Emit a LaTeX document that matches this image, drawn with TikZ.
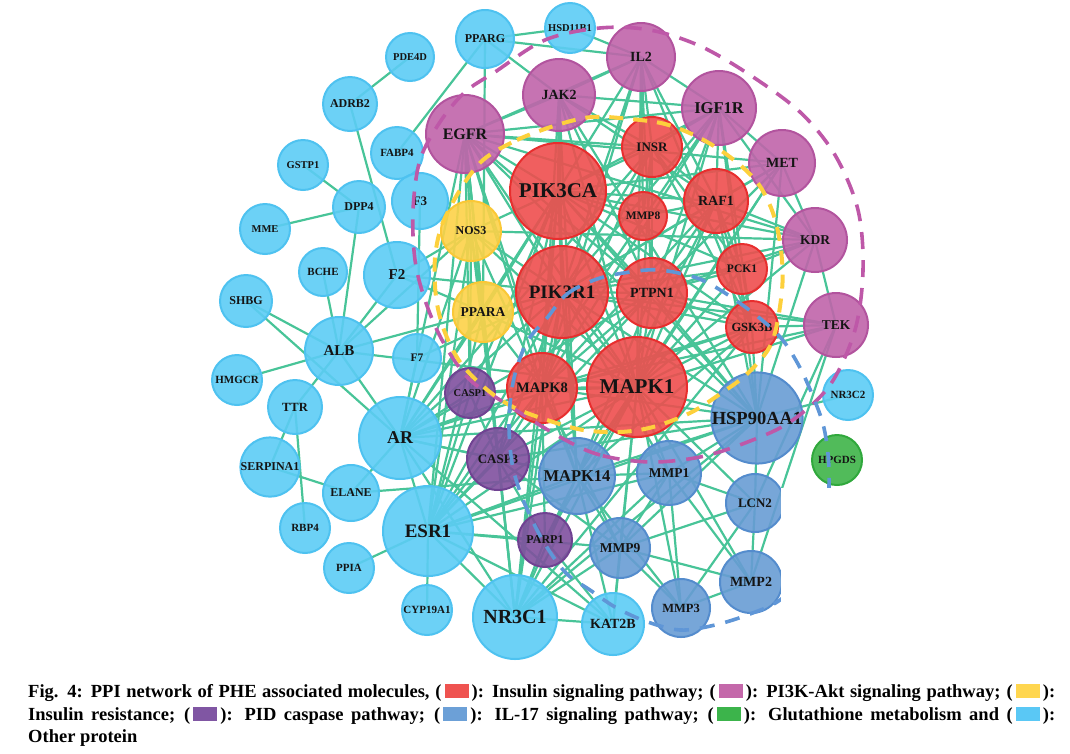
\documentclass[tikz,border=0pt]{standalone}
\usepackage{fontspec}
\setmainfont{Liberation Serif}
\pgfdeclarelayer{edgelayer}
\pgfsetlayers{edgelayer,main}
\newcommand\fsz[1]{\fontsize{#1}{#1}\selectfont\bfseries}
\newcommand\legbox[1]{\textcolor{#1}{\rule[-1pt]{24pt}{14pt}}}
\definecolor{rdF}{RGB}{238,78,78}\definecolor{rdD}{RGB}{232,46,46}
\definecolor{mgF}{RGB}{192,100,170}\definecolor{mgD}{RGB}{178,84,158}
\definecolor{ylF}{RGB}{253,210,72}\definecolor{ylD}{RGB}{250,200,55}
\definecolor{puF}{RGB}{128,80,158}\definecolor{puD}{RGB}{112,66,146}
\definecolor{blF}{RGB}{104,156,212}\definecolor{blD}{RGB}{84,140,205}
\definecolor{grF}{RGB}{62,180,72}\definecolor{grD}{RGB}{48,168,60}
\definecolor{lbF}{RGB}{92,204,245}\definecolor{lbD}{RGB}{78,194,240}
\definecolor{lnkC}{RGB}{72,196,152}
\definecolor{mgDash}{RGB}{190,88,168}
\definecolor{ylDash}{RGB}{253,208,60}
\definecolor{blDash}{RGB}{95,150,215}
\definecolor{legRd}{RGB}{239,83,80}
\definecolor{legMg}{RGB}{196,104,170}
\definecolor{legYl}{RGB}{255,214,79}
\definecolor{legPu}{RGB}{128,86,163}
\definecolor{legBl}{RGB}{108,160,215}
\definecolor{legGr}{RGB}{60,180,75}
\definecolor{legLb}{RGB}{90,200,245}
\begin{document}
\begin{tikzpicture}[x=1pt,y=-1pt,
  nd/.style={circle, inner sep=0pt, line width=2pt, fill opacity=0.9, text opacity=1, text=black!92},
  nRd/.style={nd, fill=rdF, draw=rdD},
  nMg/.style={nd, fill=mgF, draw=mgD},
  nYl/.style={nd, fill=ylF, draw=ylD},
  nPu/.style={nd, fill=puF, draw=puD},
  nBl/.style={nd, fill=blF, draw=blD},
  nGr/.style={nd, fill=grF, draw=grD},
  nLb/.style={nd, fill=lbF, draw=lbD},
  lnk/.style={draw=lnkC, line width=2.2pt},
  mgLoop/.style={draw=mgDash, line width=3.6pt, dash pattern=on 17pt off 11pt},
  ylLoop/.style={draw=ylDash, line width=4pt, dash pattern=on 14pt off 10pt},
  blLoop/.style={draw=blDash, line width=3.6pt, dash pattern=on 15pt off 11pt},
  capline/.style={anchor=base west, inner sep=0pt, font=\fsz{18.5}, text=black}]
\useasboundingbox (0,0) rectangle (1070,753);
% nodes
\node[nLb, minimum size=58pt, font=\fsz{12}] (PPARG) at (485,39) {PPARG};
\node[nLb, minimum size=50pt, font=\fsz{10.5}] (HSD11B1) at (570,28) {HSD11B1};
\node[nLb, minimum size=48pt, font=\fsz{10.5}] (PDE4D) at (410,57) {PDE4D};
\node[nLb, minimum size=54pt, font=\fsz{12}] (ADRB2) at (350,104) {ADRB2};
\node[nMg, minimum size=78pt, font=\fsz{16}] (EGFR) at (465,134) {EGFR};
\node[nLb, minimum size=52pt, font=\fsz{11}] (FABP4) at (397,153) {FABP4};
\node[nLb, minimum size=50pt, font=\fsz{10.5}] (GSTP1) at (303,165) {GSTP1};
\node[nLb, minimum size=52pt, font=\fsz{12}] (DPP4) at (359,207) {DPP4};
\node[nLb, minimum size=56pt, font=\fsz{13}] (F3) at (420,201) {F3};
\node[nLb, minimum size=50pt, font=\fsz{10.5}] (MME) at (265,229) {MME};
\node[nYl, minimum size=60pt, font=\fsz{12}] (NOS3) at (471,231) {NOS3};
\node[nMg, minimum size=72pt, font=\fsz{14}] (JAK2) at (559,95) {JAK2};
\node[nMg, minimum size=68pt, font=\fsz{14}] (IL2) at (641,57) {IL2};
\node[nMg, minimum size=74pt, font=\fsz{16.5}] (IGF1R) at (719,108) {IGF1R};
\node[nRd, minimum size=60pt, font=\fsz{13}] (INSR) at (652,147) {INSR};
\node[nMg, minimum size=66pt, font=\fsz{14}] (MET) at (782,163) {MET};
\node[nRd, minimum size=96pt, font=\fsz{21}] (PIK3CA) at (558,191) {PIK3CA};
\node[nRd, minimum size=64pt, font=\fsz{14}] (RAF1) at (716,201) {RAF1};
\node[nRd, minimum size=48pt, font=\fsz{11.5}] (MMP8) at (643,216) {MMP8};
\node[nMg, minimum size=64pt, font=\fsz{13.5}] (KDR) at (815,240) {KDR};
\node[nRd, minimum size=50pt, font=\fsz{11.5}] (PCK1) at (742,269) {PCK1};
\node[nRd, minimum size=92pt, font=\fsz{19}] (PIK3R1) at (562,292) {PIK3R1};
\node[nRd, minimum size=70pt, font=\fsz{14}] (PTPN1) at (652,293) {PTPN1};
\node[nRd, minimum size=52pt, font=\fsz{12.5}] (GSK3B) at (752,327) {GSK3B};
\node[nMg, minimum size=64pt, font=\fsz{13.5}] (TEK) at (836,325) {TEK};
\node[nRd, minimum size=70pt, font=\fsz{14.5}] (MAPK8) at (542,388) {MAPK8};
\node[nRd, minimum size=100pt, font=\fsz{21}] (MAPK1) at (637,387) {MAPK1};
\node[nBl, minimum size=90pt, font=\fsz{18.5}] (HSP90AA1) at (757,418) {HSP90AA1};
\node[nLb, minimum size=50pt, font=\fsz{11}] (NR3C2) at (848,395) {NR3C2};
\node[nGr, minimum size=50pt, font=\fsz{11}] (HPGDS) at (837,460) {HPGDS};
\node[nPu, minimum size=50pt, font=\fsz{10.5}] (CASP1) at (470,393) {CASP1};
\node[nYl, minimum size=60pt, font=\fsz{13.5}] (PPARA) at (483,312) {PPARA};
\node[nLb, minimum size=66pt, font=\fsz{15}] (F2) at (397,275) {F2};
\node[nLb, minimum size=48pt, font=\fsz{11}] (BCHE) at (323,272) {BCHE};
\node[nLb, minimum size=52pt, font=\fsz{12}] (SHBG) at (246,301) {SHBG};
\node[nLb, minimum size=68pt, font=\fsz{15}] (ALB) at (339,351) {ALB};
\node[nLb, minimum size=48pt, font=\fsz{11.5}] (F7) at (417,358) {F7};
\node[nLb, minimum size=50pt, font=\fsz{11}] (HMGCR) at (237,380) {HMGCR};
\node[nLb, minimum size=54pt, font=\fsz{12.5}] (TTR) at (295,407) {TTR};
\node[nLb, minimum size=82pt, font=\fsz{18}] (AR) at (400,438) {AR};
\node[nPu, minimum size=62pt, font=\fsz{13}] (CASP3) at (498,459) {CASP3};
\node[nLb, minimum size=54pt, font=\fsz{12}] (SERPINA1) at (270,467) {SERPINA1};
\node[nLb, minimum size=56pt, font=\fsz{12}] (ELANE) at (351,493) {ELANE};
\node[nLb, minimum size=90pt, font=\fsz{19}] (ESR1) at (428,531) {ESR1};
\node[nLb, minimum size=50pt, font=\fsz{11}] (RBP4) at (305,528) {RBP4};
\node[nLb, minimum size=50pt, font=\fsz{11}] (PPIA) at (349,568) {PPIA};
\node[nLb, minimum size=50pt, font=\fsz{11}] (CYP19A1) at (427,610) {CYP19A1};
\node[nLb, minimum size=84pt, font=\fsz{20}] (NR3C1) at (515,617) {NR3C1};
\node[nBl, minimum size=76pt, font=\fsz{16.5}] (MAPK14) at (577,476) {MAPK14};
\node[nBl, minimum size=64pt, font=\fsz{13.5}] (MMP1) at (669,473) {MMP1};
\node[nBl, minimum size=58pt, font=\fsz{13}] (LCN2) at (755,503) {LCN2};
\node[nPu, minimum size=54pt, font=\fsz{12}] (PARP1) at (545,540) {PARP1};
\node[nBl, minimum size=60pt, font=\fsz{13.5}] (MMP9) at (620,548) {MMP9};
\node[nBl, minimum size=62pt, font=\fsz{14}] (MMP2) at (751,582) {MMP2};
\node[nBl, minimum size=58pt, font=\fsz{12.5}] (MMP3) at (681,608) {MMP3};
\node[nLb, minimum size=62pt, font=\fsz{14}] (KAT2B) at (613,624) {KAT2B};
% edges
\begin{pgfonlayer}{edgelayer}
\foreach \a/\b in {PDE4D/ADRB2, ADRB2/F2, GSTP1/DPP4, MME/DPP4, DPP4/ALB, PPARG/FABP4, PPARG/HSD11B1, PPARG/IL2, PPARG/JAK2, PPARG/PPARA, HSD11B1/IL2, F3/F7, BCHE/ALB, F2/ALB, SHBG/ALB, SHBG/AR, HMGCR/ALB, TTR/ALB, ALB/AR, ALB/PPARA, TTR/SERPINA1, TTR/RBP4, SERPINA1/ELANE, ELANE/AR, ELANE/MAPK14, PPIA/ESR1, CYP19A1/ESR1, ESR1/NR3C1, ESR1/AR, F7/AR, F2/PIK3R1, F2/PPARA, F2/NOS3, TEK/MMP2, NR3C2/HSP90AA1, HSP90AA1/LCN2,
EGFR/PIK3CA, EGFR/PIK3R1, EGFR/MAPK1, EGFR/MAPK8, EGFR/JAK2, EGFR/IL2, EGFR/INSR, EGFR/IGF1R, EGFR/PTPN1, EGFR/ESR1, EGFR/AR, EGFR/MAPK14, EGFR/CASP3, EGFR/HSP90AA1, EGFR/NOS3, EGFR/PPARA, EGFR/KDR, EGFR/MET, EGFR/CASP1, EGFR/NR3C1,
JAK2/PIK3CA, JAK2/PIK3R1, JAK2/MAPK1, JAK2/IL2, JAK2/INSR, JAK2/IGF1R, JAK2/PTPN1, JAK2/MAPK8, JAK2/MAPK14, JAK2/RAF1, JAK2/HSP90AA1,
IL2/PIK3CA, IL2/PIK3R1, IL2/MAPK1, IL2/IGF1R, IL2/INSR, IL2/PTPN1, IL2/MMP8, IL2/MAPK8, IL2/RAF1, IL2/GSK3B,
IGF1R/PIK3CA, IGF1R/PIK3R1, IGF1R/MAPK1, IGF1R/INSR, IGF1R/PTPN1, IGF1R/RAF1, IGF1R/MET, IGF1R/KDR, IGF1R/GSK3B, IGF1R/MAPK8, IGF1R/HSP90AA1, IGF1R/ESR1,
INSR/PIK3CA, INSR/PIK3R1, INSR/MAPK1, INSR/PTPN1, INSR/RAF1, INSR/PCK1, INSR/GSK3B, INSR/MAPK8, INSR/MMP8, INSR/AR,
MET/PIK3CA, MET/PIK3R1, MET/MAPK1, MET/RAF1, MET/KDR, MET/HSP90AA1, MET/PTPN1, MET/MAPK14,
KDR/PIK3CA, KDR/PIK3R1, KDR/MAPK1, KDR/RAF1, KDR/PTPN1, KDR/HSP90AA1, KDR/TEK, KDR/NOS3, KDR/PCK1,
TEK/PIK3R1, TEK/MAPK1, TEK/PTPN1, TEK/GSK3B, TEK/MAPK8,
PIK3CA/PIK3R1, PIK3CA/MAPK1, PIK3CA/MAPK8, PIK3CA/RAF1, PIK3CA/PTPN1, PIK3CA/GSK3B, PIK3CA/PCK1, PIK3CA/NOS3, PIK3CA/PPARA, PIK3CA/HSP90AA1, PIK3CA/MAPK14, PIK3CA/CASP3, PIK3CA/CASP1, PIK3CA/AR, PIK3CA/ESR1, PIK3CA/NR3C1, PIK3CA/MMP8,
PIK3R1/MAPK1, PIK3R1/MAPK8, PIK3R1/RAF1, PIK3R1/PTPN1, PIK3R1/GSK3B, PIK3R1/PCK1, PIK3R1/NOS3, PIK3R1/PPARA, PIK3R1/HSP90AA1, PIK3R1/MAPK14, PIK3R1/CASP3, PIK3R1/AR, PIK3R1/ESR1, PIK3R1/NR3C1, PIK3R1/MMP1, PIK3R1/F7,
MAPK1/MAPK8, MAPK1/RAF1, MAPK1/PTPN1, MAPK1/GSK3B, MAPK1/PCK1, MAPK1/NOS3, MAPK1/PPARA, MAPK1/HSP90AA1, MAPK1/MAPK14, MAPK1/CASP3, MAPK1/CASP1, MAPK1/AR, MAPK1/ESR1, MAPK1/NR3C1, MAPK1/MMP1, MAPK1/MMP9, MAPK1/MMP3, MAPK1/PARP1, MAPK1/KAT2B, MAPK1/LCN2, MAPK1/MMP2, MAPK1/ALB,
MAPK8/RAF1, MAPK8/PTPN1, MAPK8/GSK3B, MAPK8/NOS3, MAPK8/PPARA, MAPK8/HSP90AA1, MAPK8/MAPK14, MAPK8/CASP3, MAPK8/CASP1, MAPK8/AR, MAPK8/ESR1, MAPK8/NR3C1, MAPK8/MMP9, MAPK8/PARP1,
RAF1/PTPN1, RAF1/GSK3B, RAF1/HSP90AA1, RAF1/MAPK14, RAF1/PCK1, RAF1/MMP8,
PTPN1/GSK3B, PTPN1/PCK1, PTPN1/HSP90AA1, PTPN1/MAPK14, PTPN1/AR, PTPN1/ESR1,
GSK3B/PCK1, GSK3B/HSP90AA1, GSK3B/MAPK14, GSK3B/AR, GSK3B/NR3C1,
HSP90AA1/MAPK14, HSP90AA1/AR, HSP90AA1/ESR1, HSP90AA1/NR3C1, HSP90AA1/MMP1, HSP90AA1/MMP9, HSP90AA1/CASP3,
MAPK14/CASP3, MAPK14/AR, MAPK14/ESR1, MAPK14/NR3C1, MAPK14/MMP1, MAPK14/MMP9, MAPK14/PARP1, MAPK14/KAT2B, MAPK14/MMP3,
CASP3/CASP1, CASP3/AR, CASP3/ESR1, CASP3/NR3C1, CASP3/PARP1, CASP3/MMP9, CASP3/NOS3, CASP3/PPARA,
CASP1/AR, CASP1/ESR1, CASP1/NOS3, NOS3/PPARA, NOS3/AR, NOS3/ESR1, NOS3/ALB,
PPARA/AR, PPARA/ESR1, PPARA/NR3C1, AR/NR3C1, AR/KAT2B,
ESR1/KAT2B, ESR1/MMP9, ESR1/PARP1, ESR1/MMP1,
NR3C1/KAT2B, NR3C1/MMP9, NR3C1/PARP1, NR3C1/MMP1,
MMP1/MMP9, MMP1/MMP2, MMP1/MMP3, MMP1/LCN2,
MMP9/MMP2, MMP9/MMP3, MMP9/LCN2, MMP9/KAT2B,
MMP2/MMP3, MMP2/LCN2, LCN2/MMP3, PARP1/KAT2B, LCN2/TEK}
  \draw[lnk] (\a.center) -- (\b.center);
\end{pgfonlayer}
% pathway loops
\draw[mgLoop] plot[smooth cycle, tension=0.55] coordinates {(650,462) (600,455) (560,437) (500,400) (468,378) (442,340) (425,300) (415,260) (413,210) (420,160) (440,122) (465,92) (495,72) (545,40) (600,28) (650,30) (700,46) (750,75) (800,112) (835,155) (858,210) (863,270) (855,330) (830,385) (790,422) (745,443) (700,457)};
\draw[ylLoop] plot[smooth cycle, tension=0.55] coordinates {(483,160) (517,140) (557,125) (592,117) (630,119) (665,124) (698,137) (730,157) (757,182) (773,213) (781,250) (782,290) (772,342) (748,373) (720,394) (690,413) (653,427) (620,432) (583,430) (547,420) (513,407) (485,388) (460,362) (444,330) (436,297) (435,258) (442,225) (460,190)};
\draw[blLoop] plot[smooth cycle, tension=0.55] coordinates {(547,318) (567,294) (597,279) (630,272) (660,270) (697,278) (725,293) (757,316) (781,338) (798,364) (812,394) (824,428) (829,470) (826,520) (810,570) (780,600) (750,614) (715,625) (680,630) (645,621) (615,607) (590,590) (568,575) (552,555) (537,530) (522,497) (512,463) (509,420) (514,378) (527,342)};
% clipped corner
\fill[white] (781,488) rectangle (1070,668);
% caption
\node[capline] (cap1) at (28,697) {\makebox[1027pt][s]{Fig. 4: PPI network of PHE associated molecules, (\,\legbox{legRd}\,): Insulin signaling pathway; (\,\legbox{legMg}\,): PI3K-Akt signaling pathway; (\,\legbox{legYl}\,):}};
\node[capline] (cap2) at (28,720) {\makebox[1027pt][s]{Insulin resistance; (\,\legbox{legPu}\,): PID caspase pathway; (\,\legbox{legBl}\,): IL-17 signaling pathway; (\,\legbox{legGr}\,): Glutathione metabolism and (\,\legbox{legLb}\,):}};
\node[capline] (cap3) at (28,742) {Other protein};
\end{tikzpicture}
\end{document}
